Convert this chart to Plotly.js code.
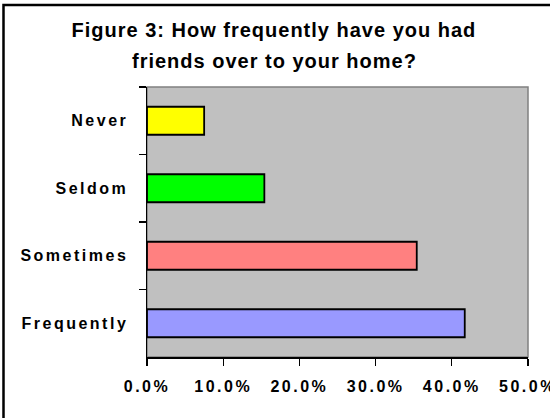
<!DOCTYPE html>
<html>
<head>
<meta charset="utf-8">
<script src="https://cdn.plot.ly/plotly-3.0.1.min.js"></script>
<style>
  html, body { margin: 0; padding: 0; background: #fff; }
  #chart { width: 550px; height: 418px; }
  #chart .gtitle, #chart .annotation-text { letter-spacing: 1px; }
  #chart .xtick text, #chart .ytick text { letter-spacing: 2.5px; }
</style>
</head>
<body>
<div id="chart"></div>
<script>
const categories = ['Never', 'Seldom', 'Sometimes', 'Frequently'];
const shares = [0.075, 0.154, 0.354, 0.417];
const barColors = ['#FFFF00', '#00FF00', '#FF8080', '#9999FF'];
const tickValues = [0, 0.1, 0.2, 0.3, 0.4, 0.5];
const titleLine1 = 'Figure 3: How frequently have you had';
const titleLine2 = 'friends over to your home?';

const FONT = 'Arial, "Liberation Sans", sans-serif';

const trace = {
  type: 'bar',
  orientation: 'h',
  x: shares,
  y: categories,
  marker: { color: barColors, line: { color: '#000000', width: 1.8 } },
  hoverinfo: 'skip'
};

const fx = p => (p - 147) / 381;
const fy = p => 1 - (p - 87) / 270;

const layout = {
  width: 550,
  height: 418,
  margin: { l: 147, r: 22, t: 87, b: 61, pad: 0 },
  paper_bgcolor: '#FFFFFF',
  plot_bgcolor: '#C0C0C0',
  showlegend: false,
  bargap: 0.585,
  font: { family: FONT, color: '#000000' },
  title: {
    text: titleLine1,
    font: { family: FONT, size: 20, weight: 'bold', color: '#000000' },
    xref: 'container', x: 0.498, xanchor: 'center',
    yref: 'container', y: 1 - 30 / 418, yanchor: 'middle'
  },
  annotations: [{
    text: titleLine2,
    xref: 'paper', x: fx(274), xanchor: 'center',
    yref: 'paper', y: fy(61), yanchor: 'middle',
    showarrow: false,
    font: { family: FONT, size: 20, weight: 'bold', color: '#000000' }
  }],
  xaxis: {
    range: [0, 0.5],
    tickvals: tickValues,
    tickformat: '.1%',
    ticks: 'outside', ticklen: 7, tickwidth: 1.2, tickcolor: '#000000',
    showline: true, linecolor: '#000000', linewidth: 1.5,
    showgrid: false, zeroline: false,
    ticklabeloverflow: 'allow',
    ticklabelstandoff: 7,
    tickfont: { family: FONT, size: 16, weight: 'bold', color: '#000000' },
    fixedrange: true
  },
  yaxis: {
    autorange: 'reversed',
    type: 'category',
    tickson: 'boundaries',
    ticks: 'outside', ticklen: 7, tickwidth: 1.2, tickcolor: '#000000',
    showline: true, linecolor: '#000000', linewidth: 1.5,
    showgrid: false, zeroline: false,
    ticklabelstandoff: 14,
    tickfont: { family: FONT, size: 16, weight: 'bold', color: '#000000' },
    fixedrange: true
  },
  shapes: [
    {
      type: 'rect', xref: 'paper', yref: 'paper', layer: 'below',
      x0: 0, x1: 1, y0: 0, y1: 1,
      line: { color: '#808080', width: 1.5 }, fillcolor: 'rgba(0,0,0,0)'
    },
    {
      type: 'path', xref: 'paper', yref: 'paper', layer: 'above',
      path: 'M ' + fx(3.5) + ' ' + fy(430) + ' L ' + fx(3.5) + ' ' + fy(5) + ' L ' + fx(560) + ' ' + fy(5),
      line: { color: '#000000', width: 2.5 }, fillcolor: 'rgba(0,0,0,0)'
    }
  ]
};

Plotly.newPlot('chart', [trace], layout, { staticPlot: true, displayModeBar: false });
</script>
</body>
</html>
